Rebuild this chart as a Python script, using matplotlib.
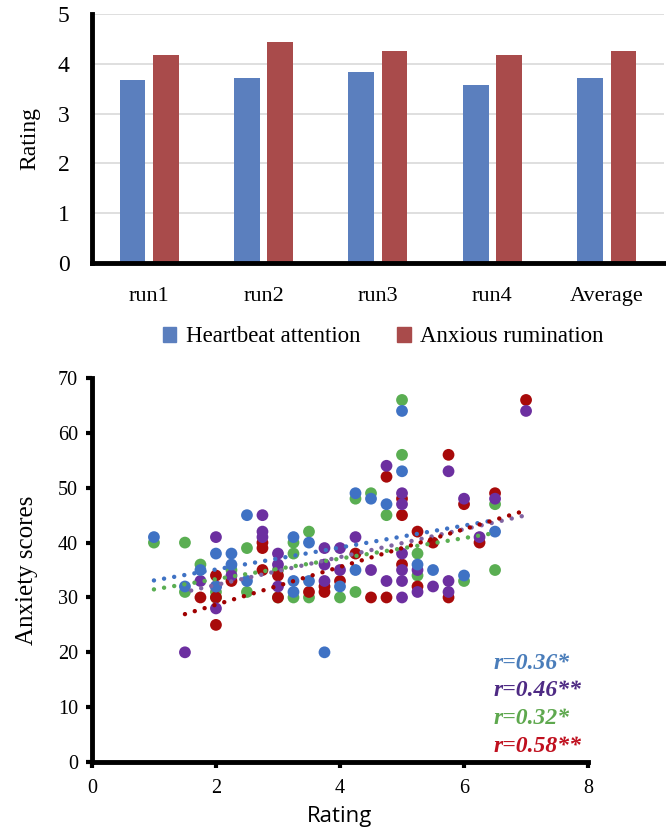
import numpy as np
import matplotlib
matplotlib.use("Agg")
import matplotlib.pyplot as plt
from matplotlib.patches import Patch

# ---------------- data: bar chart ----------------
categories = ["run1", "run2", "run3", "run4", "Average"]
heartbeat = [3.68, 3.72, 3.83, 3.58, 3.72]
anxious = [4.18, 4.43, 4.25, 4.18, 4.25]
bar_labels = ["Heartbeat attention", "Anxious rumination"]

# ---------------- data: scatter (rating, anxiety score) ----------------
blue_x = [1, 1.5, 1.75, 2, 2, 2.25, 2.25, 2.5, 2.5, 3.25, 3.25, 3.25, 3.5, 3.5,
          3.75, 4, 4.25, 4.25, 4.5, 4.75, 5, 5, 5.25, 5.5, 6, 6.5]
blue_y = [41, 32, 35, 38, 32, 38, 36, 45, 33, 41, 33, 31, 40, 33,
          20, 32, 49, 35, 48, 47, 64, 53, 36, 35, 34, 42]

green_x = [1, 1.5, 1.5, 1.75, 2, 2, 2.25, 2.5, 2.5, 3, 3, 3.25, 3.25, 3.25,
           3.5, 3.5, 4, 4.25, 4.25, 4.5, 4.75, 5, 5, 5.25, 5.25, 6, 6.5, 6.5]
green_y = [40, 40, 31, 36, 30, 31, 35, 39, 31, 35, 30, 40, 38, 30,
           42, 30, 30, 48, 31, 49, 45, 66, 56, 38, 34, 33, 47, 35]

red_x = [1.75, 2, 2, 2, 2.25, 2.75, 2.75, 2.75, 3, 3, 3.5, 3.75, 3.75, 4,
         4.25, 4.5, 4.75, 4.75, 5, 5, 5, 5.25, 5.25, 5.5, 5.75, 5.75, 6, 6.25,
         6.5, 7]
red_y = [30, 34, 30, 25, 33, 40, 39, 35, 34, 30, 31, 32, 31, 33,
         38, 30, 52, 30, 48, 45, 36, 42, 32, 40, 56, 30, 47, 40,
         49, 66]

purple_x = [1.5, 1.75, 2, 2, 2, 2.25, 2.75, 2.75, 2.75, 3, 3, 3, 3.75, 3.75,
            3.75, 4, 4, 4.25, 4.5, 4.75, 4.75, 5, 5, 5, 5, 5, 5, 5.25, 5.25,
            5.5, 5.75, 5.75, 5.75, 6, 6.25, 6.5, 7]
purple_y = [20, 33, 41, 32, 28, 34, 45, 42, 41, 38, 36, 32, 39, 36,
            33, 39, 35, 41, 35, 54, 33, 49, 47, 38, 35, 33, 30, 35, 31,
            32, 53, 33, 31, 48, 41, 48, 64]

# linear trend lines: (x start, x end, slope, intercept)
trend_blue = (1.0, 6.5, 2.0, 31.1)
trend_green = (1.0, 6.4, 1.87, 29.6)
trend_red = (1.5, 7.0, 3.44, 21.8)
trend_purple = (1.6, 7.0, 2.54, 27.2)

r_labels = ["r=0.36*", "r=0.46**", "r=0.32*", "r=0.58**"]
r_ypos = [18, 13, 8, 2.9]

# ---------------- styles ----------------
serif = "Liberation Serif"
c_hb = "#5B7FBE"
c_ar = "#A94B4B"
c_blue = "#3F72C4"
c_green = "#5AAE52"
c_red = "#A80A0A"
c_purple = "#6C2FA0"
t_blue = "#4A7DBA"
t_purple = "#4E2A84"
t_green = "#5EA84E"
t_red = "#C0101F"

fig = plt.figure(figsize=(6.66, 8.33), dpi=100)

# ================= bar chart =================
ax1 = fig.add_axes([0.138, 0.684, 0.859, 0.2995])
xpos = np.arange(len(categories))
ax1.bar(xpos - 0.145, heartbeat, width=0.225, color=c_hb, zorder=2)
ax1.bar(xpos + 0.145, anxious, width=0.225, color=c_ar, zorder=2)
ax1.set_xlim(-0.5, len(categories) - 0.5)
ax1.set_ylim(0, 5)
ax1.set_yticks(range(6))
ax1.set_xticks(xpos)
ax1.set_xticklabels(categories)
ax1.yaxis.grid(True, color="#D9D9D9", lw=1.2, zorder=0)
ax1.set_axisbelow(True)
for s in ["top", "right"]:
    ax1.spines[s].set_visible(False)
for s in ["left", "bottom"]:
    ax1.spines[s].set_linewidth(3.5)
    ax1.spines[s].set_color("black")
ax1.tick_params(axis="x", length=0, labelsize=16, pad=17)
ax1.tick_params(axis="y", length=0, labelsize=17, pad=16)
for lab in ax1.get_xticklabels() + ax1.get_yticklabels():
    lab.set_fontfamily(serif)
ax1.set_ylabel("Rating", fontsize=17, fontfamily=serif)
ax1.yaxis.set_label_coords(-0.09, 0.5)

handles = [Patch(color=c_hb), Patch(color=c_ar)]
fig.legend(handles, bar_labels, loc="center", bbox_to_anchor=(0.575, 0.5955),
           ncol=2, frameon=False, prop={"family": serif, "size": 16.5},
           handlelength=0.6, handleheight=0.6, columnspacing=1.6,
           handletextpad=0.4)

# ================= scatter =================
ax2 = fig.add_axes([0.138, 0.0852, 0.745, 0.461])
ax2.scatter(green_x, green_y, s=72, color=c_green, edgecolors="none", zorder=2)
ax2.scatter(red_x, red_y, s=72, color=c_red, edgecolors="none", zorder=2)
ax2.scatter(purple_x, purple_y, s=72, color=c_purple, edgecolors="none", zorder=2)
ax2.scatter(blue_x, blue_y, s=72, color=c_blue, edgecolors="none", zorder=2)

for tr, col in [(trend_blue, c_blue), (trend_green, c_green),
                (trend_purple, "#8064A2"), (trend_red, "#A00000")]:
    x0, x1, m, b = tr
    xs = np.linspace(x0, x1, 2)
    ax2.plot(xs, m * xs + b, color=col, lw=3.2, linestyle=(0, (0.01, 2.3)),
             dash_capstyle="round", zorder=3)

ax2.set_xlim(0, 8)
ax2.set_ylim(0, 70)
ax2.set_xticks([0, 2, 4, 6, 8])
ax2.set_yticks(range(0, 71, 10))
for s in ["top", "right"]:
    ax2.spines[s].set_visible(False)
for s in ["left", "bottom"]:
    ax2.spines[s].set_linewidth(3.5)
    ax2.spines[s].set_color("black")
ax2.tick_params(axis="both", direction="out", length=4, width=3, labelsize=14.5)
ax2.tick_params(axis="x", pad=8)
ax2.tick_params(axis="y", pad=6)
for lab in ax2.get_xticklabels() + ax2.get_yticklabels():
    lab.set_fontfamily(serif)
ax2.set_ylabel("Anxiety scores", fontsize=18, fontfamily=serif)
ax2.yaxis.set_label_coords(-0.108, 0.5)
ax2.set_xlabel("Rating", fontsize=16, fontfamily="Open Sans", labelpad=6)

for lab, yy, col in zip(r_labels, r_ypos, [t_blue, t_purple, t_green, t_red]):
    ax2.text(6.47, yy, lab, color=col, fontsize=17, fontweight="bold",
             fontstyle="italic", fontfamily=serif, ha="left", va="center")

fig.savefig("out.png", dpi=100)
